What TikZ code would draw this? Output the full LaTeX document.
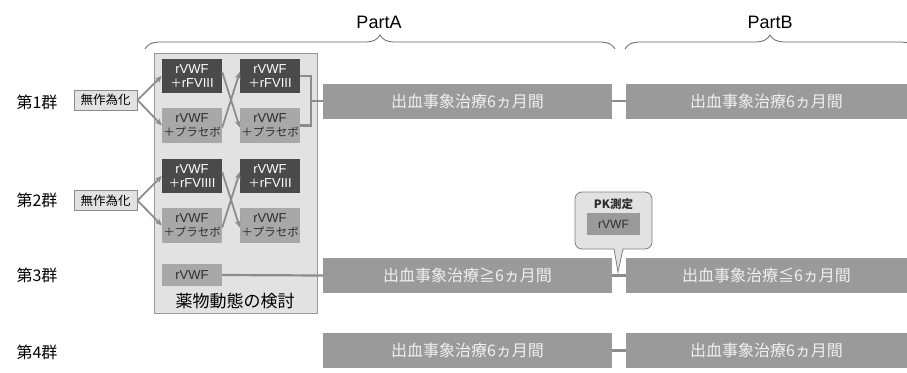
\documentclass[tikz,border=0pt]{standalone}
\usepackage{fontspec}
\setmainfont{Liberation Sans}
\newfontfamily\jp{Noto Sans CJK JP}
\usetikzlibrary{arrows.meta,decorations.pathreplacing}
\definecolor{dbox}{HTML}{4A4A4A}
\definecolor{lbox}{HTML}{A8A8A8}
\definecolor{barc}{HTML}{9A9A9A}
\definecolor{panelc}{HTML}{E2E2E2}
\definecolor{linec}{HTML}{8C8C8C}
\definecolor{txtd}{HTML}{2E2E2E}
\newcommand{\jps}[1]{{\jp\fontsize{11.5}{13}\selectfont #1}}
\begin{document}
\begin{tikzpicture}[x=1pt,y=-1pt,
  grp/.style={font=\jp\fontsize{16}{18}\selectfont, text=black, inner sep=0},
  randbox/.style={draw=linec, line width=1pt, fill=panelc, minimum width=63pt, minimum height=20pt, inner sep=0, font=\jp\fontsize{12.5}{14}\selectfont, text=black},
  darkbox/.style={fill=dbox, minimum width=60pt, minimum height=34pt, inner sep=0, align=center, text=white, font=\fontsize{13}{14}\selectfont},
  lightbox/.style={fill=lbox, minimum width=60pt, minimum height=35pt, inner sep=0, align=center, text=txtd, font=\fontsize{13}{14}\selectfont},
  barbox/.style={fill=barc, minimum height=35pt, inner sep=0, text=white!94!black, font=\jp\fontsize{16}{18}\selectfont},
  conn/.style={draw=linec, line width=2.2pt},
  arr/.style={draw=linec, line width=1.8pt, -{Stealth[length=7pt,width=6pt]}},
  bracesty/.style={draw=black!60, line width=0.8pt, decorate, decoration={brace, amplitude=14pt}},
  parttxt/.style={font=\fontsize{18}{20}\selectfont, text=black}
]
\useasboundingbox (0,0) rectangle (907,372);

% part headers
\node[parttxt] (pa) at (379,22) {PartA};
\node[parttxt] (pb) at (770,22) {PartB};
\draw[bracesty] (145,49) -- (615,49);
\draw[bracesty] (625,49) -- (915,49);

% group labels
\node[grp] (g1) at (37,102) {第1群};
\node[grp] (g2) at (37,200) {第2群};
\node[grp] (g3) at (37,275) {第3群};
\node[grp] (g4) at (37,352) {第4群};

% PK panel
\node[draw=black!40, line width=0.8pt, fill=panelc, minimum width=163pt, minimum height=260pt, inner sep=0] (panel) at (235.5,183) {};
\node[font=\jp\fontsize{17}{19}\selectfont, text=black, inner sep=0] (pktxt) at (235,301) {薬物動態の検討};

% randomization
\node[randbox] (r1) at (105.5,100) {無作為化};
\node[randbox] (r2) at (105.5,200.5) {無作為化};

% group 1 boxes
\node[darkbox] (d11) at (192,76) {rVWF\\\jps{＋}rFVIII};
\node[lightbox] (l11) at (192,125.5) {rVWF\\\jps{＋プラセボ}};
\node[darkbox] (d12) at (270,76) {rVWF\\\jps{＋}rFVIII};
\node[lightbox] (l12) at (270,125.5) {rVWF\\\jps{＋プラセボ}};
% group 2 boxes
\node[darkbox] (d21) at (192,176) {rVWF\\\jps{＋}rFVIIII};
\node[lightbox] (l21) at (192,225.5) {rVWF\\\jps{＋プラセボ}};
\node[darkbox] (d22) at (270,176) {rVWF\\\jps{＋}rFVIII};
\node[lightbox] (l22) at (270,225.5) {rVWF\\\jps{＋プラセボ}};
% group 3 box
\node[lightbox, minimum height=22pt] (v3) at (192,275) {rVWF};

% bars
\node[barbox, minimum width=289pt] (a1) at (467.5,101) {出血事象治療6ヵ月間};
\node[barbox, minimum width=281pt] (b1) at (766.5,101) {出血事象治療6ヵ月間};
\node[barbox, minimum width=289pt] (a3) at (467.5,275.5) {出血事象治療≧6ヵ月間};
\node[barbox, minimum width=281pt] (b3) at (766.5,275.5) {出血事象治療≦6ヵ月間};
\node[barbox, minimum width=289pt] (a4) at (467.5,350.5) {出血事象治療6ヵ月間};
\node[barbox, minimum width=281pt] (b4) at (766.5,350.5) {出血事象治療6ヵ月間};

% arrows from randomization
\draw[arr] (r1.east) -- (d11.west);
\draw[arr] (r1.east) -- (l11.west);
\draw[arr] (r2.east) -- (d21.west);
\draw[arr] (r2.east) -- (l21.west);
% crossing arrows
\draw[arr] ([yshift=4pt]d11.east) -- ([yshift=-2pt]l12.west);
\draw[arr] ([yshift=-2pt]l11.east) -- ([yshift=4pt]d12.west);
\draw[arr] ([yshift=4pt]d21.east) -- ([yshift=-2pt]l22.west);
\draw[arr] ([yshift=-2pt]l21.east) -- ([yshift=4pt]d22.west);

% group 1 bracket
\coordinate (k1) at (311,101);
\draw[conn] (d12.east) -| (k1) |- (l12.east);
\draw[conn] (k1) -- (a1.west);
% group 3 line
\draw[conn] (v3.east) -- (a3.west);
% A-B links
\draw[conn] (a1.east) -- (b1.west);
\draw[conn] (a3.east) -- (b3.west);
\draw[conn] (a4.east) -- (b4.west);

% PK callout
\draw[draw=black!50, line width=0.8pt, fill=panelc]
  (614,249) [rounded corners=7pt] -- (575,249) -- (575,192) -- (652,192) -- (652,249) [sharp corners] -- (623,249) -- (618,272) -- cycle;
\node[font=\jp\bfseries\fontsize{11.5}{13}\selectfont, text=txtd, inner sep=0] (pk) at (613.5,204) {PK測定};
\node[fill=barc, minimum width=53pt, minimum height=22pt, inner sep=0, text=txtd, font=\fontsize{12}{13}\selectfont] (pkv) at (613.5,224) {rVWF};
\end{tikzpicture}
\end{document}
